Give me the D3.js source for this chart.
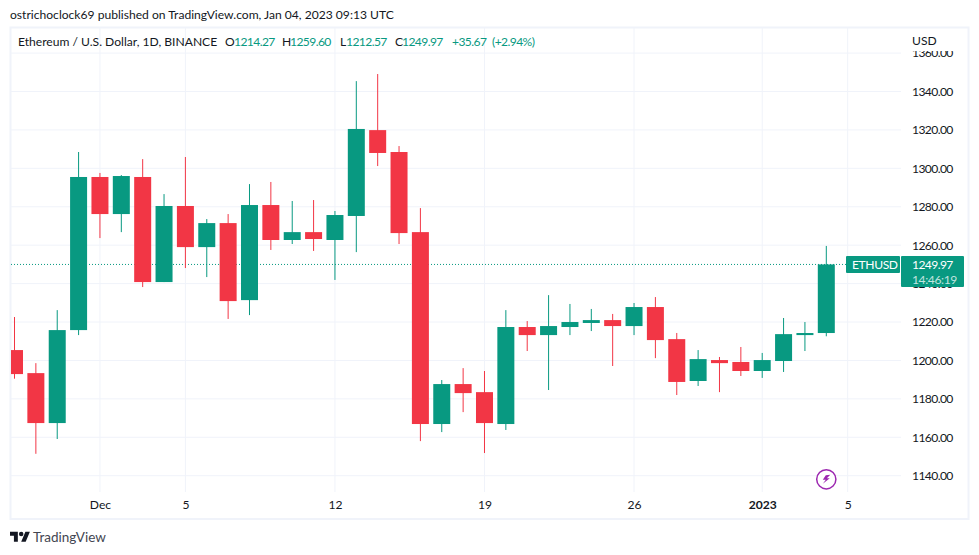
<!DOCTYPE html>
<html>
<head>
<meta charset="utf-8">
<title>ETHUSD</title>
<script src="https://cdn.jsdelivr.net/npm/d3@7"></script>
<style>
    html, body { margin: 0; padding: 0; background: #fff; overflow: hidden; }
    svg { display: block; }
    text { font-family: Lato, sans-serif; fill: #131722; }
</style>
</head>
<body>
<svg id="chart" width="979" height="555"></svg>
<script>
var dates = ["2022-11-27","2022-11-28","2022-11-29","2022-11-30","2022-12-01","2022-12-02","2022-12-03","2022-12-04",
    "2022-12-05","2022-12-06","2022-12-07","2022-12-08","2022-12-09","2022-12-10","2022-12-11","2022-12-12",
    "2022-12-13","2022-12-14","2022-12-15","2022-12-16","2022-12-17","2022-12-18","2022-12-19","2022-12-20",
    "2022-12-21","2022-12-22","2022-12-23","2022-12-24","2022-12-25","2022-12-26","2022-12-27","2022-12-28",
    "2022-12-29","2022-12-30","2022-12-31","2023-01-01","2023-01-02","2023-01-03","2023-01-04"];
var opens = [1205.4,1193.4,1167.4,1215.8,1295.5,1276.2,1295.5,1240.8,1280.4,1259,1271.5,1231.4,1280.9,1262.7,1266.8,1262.7,
    1275.2,1319.9,1308.5,1266.8,1166.9,1187.7,1183.5,1166.9,1217.4,1213.2,1217.4,1219.5,1221,1217.9,1227.8,1211.1,
    1189.3,1200.2,1199.2,1194.5,1199.7,1213.2,1214.27];
var highs = [1222.6,1198.6,1226.2,1308.5,1297.6,1296.5,1304.8,1286.6,1305.9,1273.6,1276.2,1291.8,1292.9,1283,1283.5,1277.8,
    1345.4,1349.1,1311.6,1279.3,1189.8,1196,1194.5,1226.2,1220.5,1234,1229.4,1226.8,1224.2,1229.9,1233,1214.3,
    1205.4,1201.8,1207,1203.9,1222.1,1220,1259.6];
var lows = [1190.5,1151.4,1159.1,1213.2,1263.7,1266.8,1238.2,1240.8,1248.1,1243.4,1221.6,1223.6,1257.5,1260.6,1257,1241.9,
    1256.4,1301.2,1260.6,1158,1162.7,1173.1,1151.8,1163.8,1204.9,1184.6,1213.2,1215.3,1197.1,1213.2,1201.2,1182,
    1186.7,1183.5,1191.9,1190.9,1194,1204.9,1212.57];
var closes = [1192.9,1167.4,1215.8,1295.5,1276.2,1296,1240.8,1280.4,1259,1271.5,1230.9,1280.9,1262.7,1266.8,1263.2,1275.7,
    1320.5,1308,1266.3,1166.9,1187.7,1183,1167.4,1217.4,1213.2,1217.9,1220,1221,1217.9,1227.8,1210.6,1188.8,
    1200.7,1198.6,1194.5,1200.2,1213.7,1214.27,1249.97];

var priceTicks = [1140,1160,1180,1200,1220,1240,1260,1280,1300,1320,1340,1360];
var timeTicks = ["2022-12-01","2022-12-05","2022-12-12","2022-12-19","2022-12-26","2023-01-01","2023-01-05"];
var timeLabels = ["Dec","5","12","19","26","2023","5"];

var legendParts = [
    { "label": "Ethereum / U.S. Dollar, 1D, BINANCE", "x": 18, "up": false },
    { "label": "O", "x": 225, "up": false }, { "label": "1214.27", "x": 234, "up": true },
    { "label": "H", "x": 282, "up": false }, { "label": "1259.60", "x": 290, "up": true },
    { "label": "L", "x": 340, "up": false }, { "label": "1212.57", "x": 346, "up": true },
    { "label": "C", "x": 395, "up": false }, { "label": "1249.97", "x": 402, "up": true },
    { "label": "+35.67", "x": 452, "up": true }, { "label": "(+2.94%)", "x": 492, "up": true }
];

var green = "#089981", red = "#f23645", gridColor = "#f0f3fa";
var lastPrice = 1249.97;
var labelSize = 12.1;
var digitSpacing = "-0.6px";
var parseDay = d3.utcParse("%Y-%m-%d");

var svg = d3.select("#chart");

var x = d3.scaleUtc()
    .domain([parseDay(dates[0]), parseDay(dates[dates.length - 1])])
    .range([14.5, 826.3]);
var y = d3.scaleLinear()
    .domain([1140, 1340])
    .range([475.7, 91.5]);

// Clip candles and lines to the pane
svg.append("clipPath").attr("id", "pane")
    .append("rect").attr("x", 11).attr("y", 28).attr("width", 890).attr("height", 464);
svg.append("clipPath").attr("id", "scale")
    .append("rect").attr("x", 0).attr("y", 51).attr("width", 66).attr("height", 441);

// Grid
svg.append("g").selectAll("line").data(priceTicks).join("line")
    .attr("x1", 11).attr("x2", 901)
    .attr("y1", function (d) { return y(d); }).attr("y2", function (d) { return y(d); })
    .attr("stroke", gridColor);
svg.append("g").selectAll("line").data(timeTicks).join("line")
    .attr("x1", function (d) { return x(parseDay(d)); }).attr("x2", function (d) { return x(parseDay(d)); })
    .attr("y1", 28).attr("y2", 492)
    .attr("stroke", gridColor);

// Frame
svg.append("rect")
    .attr("x", 10.5).attr("y", 27.5).attr("width", 958).attr("height", 491.5)
    .attr("fill", "none").attr("stroke", gridColor).attr("stroke-width", 2);

// Last price line
svg.append("line")
    .attr("x1", 11).attr("x2", 846)
    .attr("y1", y(lastPrice)).attr("y2", y(lastPrice))
    .attr("stroke", green).attr("stroke-width", 1)
    .attr("stroke-dasharray", "1 2");

// Candles
var candles = svg.append("g").attr("clip-path", "url(#pane)")
    .selectAll("g").data(dates).join("g");
candles.append("line")
    .attr("x1", function (d) { return x(parseDay(d)); }).attr("x2", function (d) { return x(parseDay(d)); })
    .attr("y1", function (d, i) { return y(highs[i]); })
    .attr("y2", function (d, i) { return y(lows[i]); })
    .attr("stroke", function (d, i) { return closes[i] >= opens[i] ? green : red; });
candles.append("rect")
    .attr("x", function (d) { return x(parseDay(d)) - 8.5; })
    .attr("width", 17)
    .attr("y", function (d, i) { return y(Math.max(opens[i], closes[i])); })
    .attr("height", function (d, i) { return Math.abs(y(opens[i]) - y(closes[i])); })
    .attr("fill", function (d, i) { return closes[i] >= opens[i] ? green : red; });

// Price axis
var priceAxis = svg.append("g")
    .attr("transform", "translate(901,0)")
    .attr("clip-path", "url(#scale)")
    .call(d3.axisRight(y).tickValues(priceTicks).tickSize(0).tickPadding(11).tickFormat(d3.format(".2f")));
priceAxis.select(".domain").remove();
priceAxis.selectAll("text")
    .attr("font-size", labelSize).style("font-family", "Lato, sans-serif")
    .style("letter-spacing", digitSpacing).attr("fill", "#131722");

// Time axis
var timeAxis = svg.append("g")
    .attr("transform", "translate(0,492)")
    .call(d3.axisBottom(x)
        .tickValues(timeTicks.map(parseDay))
        .tickSize(0).tickPadding(8)
        .tickFormat(function (d, i) { return timeLabels[i]; }));
timeAxis.select(".domain").remove();
timeAxis.selectAll("text")
    .attr("font-size", labelSize).style("font-family", "Lato, sans-serif").attr("fill", "#131722")
    .attr("font-weight", function (d, i) { return timeLabels[i] == "2023" ? "bold" : "normal"; });

// Header and legend
svg.append("text").attr("x", 10).attr("y", 19).attr("font-size", labelSize)
    .text("ostrichoclock69 published on TradingView.com, Jan 04, 2023 09:13 UTC");
svg.append("g").selectAll("text").data(legendParts).join("text")
    .attr("x", function (d) { return d.x; }).attr("y", 46).attr("font-size", labelSize)
    .style("fill", function (d) { return d.up ? green : "#131722"; })
    .style("letter-spacing", function (d) { return d.up ? digitSpacing : null; })
    .text(function (d) { return d.label; });
svg.append("text").attr("x", 912).attr("y", 45).attr("font-size", labelSize).text("USD");

// Last price tags
svg.append("rect").attr("x", 846).attr("y", 256).attr("width", 54).attr("height", 17).attr("rx", 1).attr("fill", green);
svg.append("rect").attr("x", 901).attr("y", 256).attr("width", 63).attr("height", 31).attr("rx", 1).attr("fill", green);
svg.append("text").attr("x", 852).attr("y", 269).attr("font-size", labelSize).style("fill", "#fff")
    .style("letter-spacing", "-0.4px").text("ETHUSD");
svg.append("text").attr("x", 912).attr("y", 269).attr("font-size", labelSize).style("fill", "#fff")
    .style("letter-spacing", digitSpacing).text(d3.format(".2f")(lastPrice));
svg.append("text").attr("x", 912).attr("y", 283.5).attr("font-size", labelSize).style("fill", "#fff").style("fill-opacity", 0.75)
    .style("letter-spacing", "-0.4px").text("14:46:19");

// Dividend style icon below the last candle
var icon = svg.append("g")
    .attr("transform", "translate(" + x(parseDay(dates[dates.length - 1])) + ",479.3)");
icon.append("circle").attr("r", 9.6).attr("fill", "#fff").attr("stroke", "#9c27b0").attr("stroke-width", 1.5);
icon.append("path").attr("d", "M4 -4.5 L-0.5 -4 L-3.5 0.5 L-0.5 0.5 L-3.5 4.5 L3.5 -1 L0.5 -1 Z")
    .attr("fill", "#9c27b0");

// Logo
var logo = svg.append("g").attr("transform", "translate(10,529.5) scale(0.56)").attr("fill", "#131722");
logo.append("path").attr("d", "M14 22H7V11H0V4h14v18zM28 22h-8l7.5-18h8L28 22z");
logo.append("circle").attr("cx", 20).attr("cy", 8).attr("r", 4);
svg.append("text").attr("x", 33).attr("y", 542).attr("font-size", 13.5).style("fill", "#434651").text("TradingView");
</script>
</body>
</html>
